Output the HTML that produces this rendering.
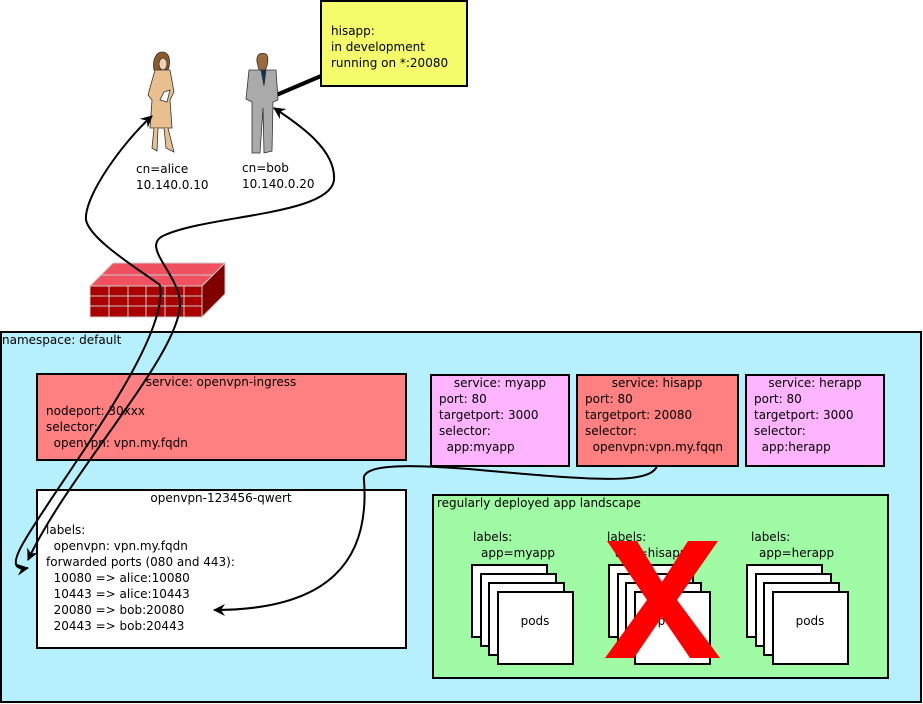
<!DOCTYPE html>
<html><head><meta charset="utf-8"><style>
html,body{margin:0;padding:0;background:#fff;}
svg{display:block;font-family:"DejaVu Sans","Liberation Sans",sans-serif;font-size:12px;}
</style></head><body>
<svg width="923" height="704" viewBox="0 0 923 704" xmlns="http://www.w3.org/2000/svg">
<defs>
<marker id="ah" markerWidth="14" markerHeight="14" refX="11" refY="6" orient="auto" markerUnits="userSpaceOnUse">
<path d="M0,0 L12,6 L0,12 L4,6 Z" fill="#000"/>
</marker>
</defs>
<!-- yellow note -->
<rect x="321" y="1" width="146" height="85" fill="#f4fc6c" stroke="#000" stroke-width="2"/>
<text x="331" y="35">hisapp:</text>
<text x="331" y="51">in development</text>
<text x="331" y="67">running on *:20080</text>
<line x1="274" y1="96" x2="321" y2="76" stroke="#000" stroke-width="4"/>
<!-- alice -->
<g stroke="#333" stroke-width="0.8">
<path d="M154,70 C152,60 156,52 162,52 C170,52 171,62 168,70 Z" fill="#8a5a2a"/>
<ellipse cx="163" cy="64" rx="4" ry="6" fill="#f0d0b0"/>
<path d="M155,70 L170,70 L174,92 L170,100 L172,128 L150,128 L152,100 L148,95 Z" fill="#e8c090"/>
<path d="M164,92 L170,90 L167,102 L160,100 Z" fill="#fff"/>
<path d="M154,128 L152,148 L157,151 L158,128 M164,128 L166,148 L174,152 L168,128" fill="#e8c090"/>
</g>
<!-- bob -->
<g stroke="#333" stroke-width="0.8">
<path d="M257,62 C256,54 261,52 266,54 C269,56 268,66 265,70 L259,70 Z" fill="#9a6a3a"/>
<path d="M249,70 L276,70 L278,100 L273,102 L272,151 L264,153 L263,108 L260,153 L252,153 L252,102 L246,99 Z" fill="#aaa"/>
<path d="M261,70 L266,70 L264,86 Z" fill="#135"/>
</g>
<text x="136" y="173">cn=alice</text>
<text x="136" y="189">10.140.0.10</text>
<text x="242" y="172">cn=bob</text>
<text x="242" y="188">10.140.0.20</text>
<!-- firewall -->
<polygon points="90,286 113,263 225,263 202,286" fill="#f05060" stroke="#ccc"/>
<rect x="90" y="286" width="112" height="31" fill="#aa0000" stroke="#ccc"/>
<polygon points="202,286 225,263 225,294 202,317" fill="#800000" stroke="#ccc"/>
<g stroke="#ccc" stroke-width="1">
<line x1="90" y1="296" x2="202" y2="296"/><line x1="90" y1="306" x2="202" y2="306"/>
<line x1="109" y1="286" x2="109" y2="317"/><line x1="128" y1="286" x2="128" y2="317"/><line x1="146" y1="286" x2="146" y2="317"/><line x1="165" y1="286" x2="165" y2="317"/><line x1="184" y1="286" x2="184" y2="317"/>
<line x1="101" y1="275" x2="213" y2="275"/>
</g>
<!-- namespace -->
<rect x="1" y="332" width="920" height="370" fill="#b6f0fc" stroke="#000" stroke-width="2"/>
<text x="2" y="344">namespace: default</text>
<!-- openvpn-ingress -->
<rect x="37" y="374" width="369" height="86" fill="#ff8080" stroke="#000" stroke-width="2"/>
<text x="221" y="386" text-anchor="middle">service: openvpn-ingress</text>
<text x="46" y="415">nodeport: 30xxx</text>
<text x="46" y="431">selector:</text>
<text x="46" y="447" xml:space="preserve">  openvpn: vpn.my.fqdn</text>
<!-- myapp -->
<rect x="431" y="375" width="138" height="91" fill="#ffb4ff" stroke="#000" stroke-width="2"/>
<text x="500" y="387" text-anchor="middle">service: myapp</text>
<text x="439" y="403">port: 80</text>
<text x="439" y="419">targetport: 3000</text>
<text x="439" y="435">selector:</text>
<text x="439" y="451" xml:space="preserve">  app:myapp</text>
<!-- hisapp -->
<rect x="577" y="375" width="161" height="91" fill="#ff8080" stroke="#000" stroke-width="2"/>
<text x="657" y="387" text-anchor="middle">service: hisapp</text>
<text x="585" y="403">port: 80</text>
<text x="585" y="419">targetport: 20080</text>
<text x="585" y="435">selector:</text>
<text x="585" y="451" xml:space="preserve">  openvpn:vpn.my.fqqn</text>
<!-- herapp -->
<rect x="746" y="375" width="138" height="91" fill="#ffb4ff" stroke="#000" stroke-width="2"/>
<text x="815" y="387" text-anchor="middle">service: herapp</text>
<text x="754" y="403">port: 80</text>
<text x="754" y="419">targetport: 3000</text>
<text x="754" y="435">selector:</text>
<text x="754" y="451" xml:space="preserve">  app:herapp</text>
<!-- openvpn pod -->
<rect x="37" y="490" width="369" height="158" fill="#fff" stroke="#000" stroke-width="2"/>
<text x="221" y="502" text-anchor="middle">openvpn-123456-qwert</text>
<text x="46" y="534">labels:</text>
<text x="46" y="550" xml:space="preserve">  openvpn: vpn.my.fqdn</text>
<text x="46" y="566">forwarded ports (080 and 443):</text>
<text x="46" y="582" xml:space="preserve">  10080 =&gt; alice:10080</text>
<text x="46" y="598" xml:space="preserve">  10443 =&gt; alice:10443</text>
<text x="46" y="614" xml:space="preserve">  20080 =&gt; bob:20080</text>
<text x="46" y="630" xml:space="preserve">  20443 =&gt; bob:20443</text>
<!-- green -->
<rect x="433" y="495" width="455" height="183" fill="#a0fca4" stroke="#000" stroke-width="2"/>
<text x="437" y="507">regularly deployed app landscape</text>
<g stroke="#000" stroke-width="2" fill="#fff">
<rect x="472" y="565" width="75" height="72"/><rect x="481" y="574" width="75" height="72"/><rect x="489" y="583" width="75" height="72"/><rect x="498" y="592" width="75" height="72"/>
<rect x="609" y="565" width="75" height="72"/><rect x="618" y="574" width="75" height="72"/><rect x="626" y="583" width="75" height="72"/><rect x="635" y="592" width="75" height="72"/>
<rect x="747" y="565" width="75" height="72"/><rect x="756" y="574" width="75" height="72"/><rect x="764" y="583" width="75" height="72"/><rect x="773" y="592" width="75" height="72"/>
</g>
<text x="473" y="541">labels:</text><text x="481" y="557">app=myapp</text>
<text x="535" y="625" text-anchor="middle">pods</text>
<text x="607" y="541">labels:</text><text x="615" y="557">app=hisapp</text>
<text x="672" y="625" text-anchor="middle">pods</text>
<text x="751" y="541">labels:</text><text x="759" y="557">app=herapp</text>
<text x="810" y="625" text-anchor="middle">pods</text>
<!-- red X -->
<polygon points="607,541 637,541 662,582 688,541 718,541 677,600 720,658 690,658 662,617 634,658 605,658 647,600" fill="#ff0000"/>
<!-- curves -->
<g fill="none" stroke="#000" stroke-width="2">
<path d="M160,285 C140,270 90,240 86,220 C84,195 125,140 152,116" marker-end="url(#ah)"/>
<path d="M160,285 C170,340 60,480 25,540 C10,565 15,570 28,568" marker-end="url(#ah)"/>
<path d="M180,300 C175,270 140,245 165,235 C210,215 330,215 334,180 C336,150 300,125 274,108" marker-end="url(#ah)"/>
<path d="M180,300 C185,350 70,470 28,560" marker-end="url(#ah)"/>
<path d="M657,466 C650,485 590,480 480,470 C420,465 360,462 364,480 C370,560 330,610 214,610" marker-end="url(#ah)"/>
</g>
</svg>
</body></html>
